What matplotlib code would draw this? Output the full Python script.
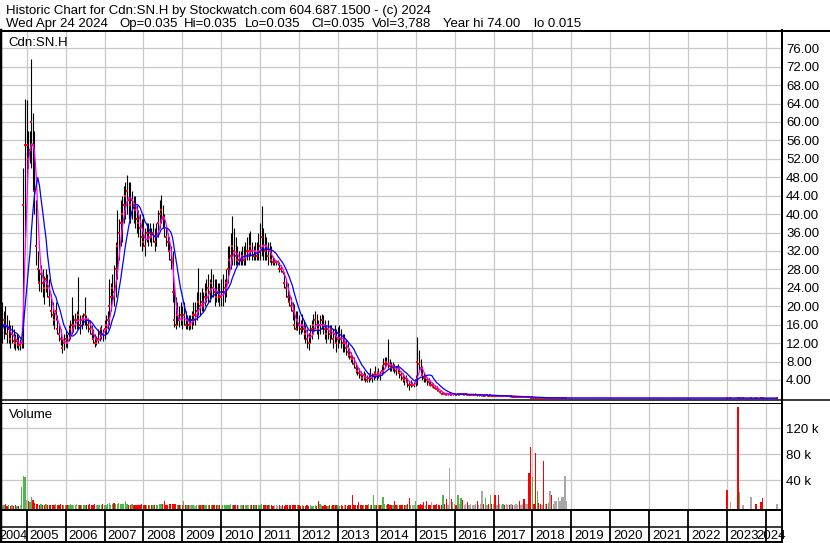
import numpy as np
import pandas as pd
import matplotlib
matplotlib.use('Agg')
import matplotlib.pyplot as plt
from matplotlib.lines import Line2D

plt.rcParams['font.family'] = ['Liberation Sans', 'DejaVu Sans']

# ---------------- data (semi-monthly) ----------------
# one row per year, 2004 starts May 15, 2018 ends Nov 15
close_px = [
    15, 17, 16, 14, 15, 13, 14, 12.5, 12, 12.5, 11.5, 11.5, 12, 42, 55,
    55, 52, 54, 60, 55, 45, 33, 28, 25, 27, 25, 24, 26, 24, 22, 19, 18, 17, 19, 15, 14, 13, 11, 12,
    13, 12, 14, 15, 16, 16, 17, 17, 18, 16, 17, 17.5, 18, 17, 16, 15, 14, 13, 12, 12, 13, 14, 15, 14,
    15, 16, 17, 20, 22, 24, 23, 28, 33, 36, 38, 40, 42, 44, 45, 43, 42, 43, 42, 41, 39, 38, 37, 35,
    34, 33, 36, 35, 36, 35, 36, 34, 35, 38, 40, 41, 39, 37, 35, 34, 32, 30, 23, 17, 16, 18, 17, 18,
    17, 18, 16, 17, 16, 16, 17, 18, 18, 19, 21, 20, 21, 20, 22, 23, 24, 23, 25, 24, 23, 22, 23, 22,
    22, 23, 24, 25, 28, 30, 31, 33, 32, 31, 30, 30, 30, 31, 30, 31, 32, 32, 33, 32, 31, 32, 31, 32,
    33, 35, 33, 32, 33, 31, 32, 30, 29.5, 29.5, 29.5, 29.5, 28, 28, 27.5, 25, 24, 22, 21, 20, 19, 16, 15, 17,
    16, 15, 16, 15, 14, 13, 12, 14, 15, 16, 17, 16, 15, 16, 17, 16, 15, 14, 15, 14, 15, 13, 14, 12,
    13, 14, 13, 12, 12, 11, 10, 9.5, 9, 8.5, 7.5, 6.5, 6, 5.5, 5, 4.5, 5, 4.5, 4, 4.5, 5, 4.5, 5, 5.5,
    5, 5.5, 5, 6, 7, 7.5, 8, 7.5, 7, 6.5, 7, 6.5, 6, 6.5, 5.5, 5, 4.5, 4, 4.5, 3.5, 2.8, 3, 3, 3,
    4, 8, 7.5, 6.5, 5, 4.5, 4.5, 4, 3.5, 3, 3, 2.6, 2.3, 2, 1.8, 1.4, 1.0, 1.1, 1.0, 0.9, 0.9, 0.9, 0.8, 0.9,
    0.9, 0.8, 0.9, 0.9, 1.0, 0.9, 0.9, 0.9, 0.8, 0.8, 0.8, 0.8, 0.8, 0.8, 0.7, 0.7, 0.7, 0.7, 0.6, 0.7, 0.7, 0.6, 0.7, 0.6,
    0.6, 0.55, 0.55, 0.5, 0.5, 0.5, 0.55, 0.5, 0.5, 0.5, 0.45, 0.45, 0.4, 0.4, 0.4, 0.4, 0.35, 0.35, 0.35, 0.3, 0.3, 0.3, 0.25, 0.18,
    0.2, 0.15, 0.12, 0.15, 0.14, 0.13, 0.13, 0.1, 0.1, 0.09, 0.1, 0.1, 0.08, 0.08, 0.08, 0.08, 0.08, 0.08, 0.08, 0.08, 0.08, 0.08,
]
high_px = [
    21, 19, 20, 18, 17, 16, 16, 15, 14, 14, 13.5, 13, 13, 50, 65,
    64.7, 58, 58, 73.7, 62, 58, 43, 32, 28, 29, 28, 26.5, 28, 27, 26, 22.6, 21, 18.7, 21, 18, 16, 15, 12.8, 14,
    14.8, 14, 16, 17, 22, 18, 18.5, 19, 26.3, 18, 18, 18.5, 22, 18, 17.5, 17, 16, 15, 14, 13.5, 15, 15.5, 16, 15,
    17, 18, 19, 26, 25, 27, 29, 34, 41, 39, 43, 44, 46, 47, 48.6, 47, 47, 45, 44, 44, 42, 41, 40, 39,
    40, 37, 38, 38, 38, 37, 38, 37, 38, 41, 43, 44.2, 42, 40, 37, 36, 35, 33, 32, 24.8, 22, 21, 20, 21,
    20, 21, 19, 18, 18, 18, 19, 21, 21, 23, 28.4, 23, 24, 23, 25, 26, 27, 26, 28, 27, 26, 26, 25, 25,
    26, 27, 26, 28, 33, 33, 36, 39.6, 37, 35, 33, 32, 32, 33, 33, 34, 35, 36, 36.3, 34, 33, 34, 34, 36,
    38, 41.7, 37, 36, 35, 34, 34, 33, 31, 30.5, 30, 30, 29.5, 29, 28, 27.5, 26, 25, 23, 22, 21, 20.5, 19, 19,
    18, 17, 18.4, 17, 16, 15, 14, 16, 17, 18.4, 19, 18.4, 17, 18, 18.4, 18, 17, 16, 17, 16, 16, 15, 16, 15,
    15.5, 16, 15, 14, 14, 13, 12, 11, 10, 9.5, 9, 8, 7, 6.5, 6, 5.5, 6, 5.5, 5, 5.5, 6.5, 5.5, 6, 7,
    6, 6.5, 6, 7, 8.7, 9, 9, 12.8, 8.5, 8, 8, 7.5, 7, 7.5, 6.5, 6, 5.5, 5, 5, 4.5, 3.5, 4, 3.5, 3.5,
    5, 13.3, 10.5, 8.5, 7, 5.5, 5, 4.7, 4.5, 4, 3.5, 3.3, 3, 2.6, 2.2, 1.8, 1.3, 1.3, 1.2, 1.1, 1.0, 1.0, 1.0, 1.0,
    1.0, 1.0, 1.0, 1.1, 1.1, 1.0, 1.0, 1.0, 0.9, 0.9, 0.9, 0.9, 0.9, 1.1, 0.8, 0.8, 0.8, 0.8, 0.7, 0.8, 0.8, 0.7, 0.8, 0.7,
    0.7, 0.6, 0.6, 0.6, 0.55, 0.55, 0.6, 0.55, 0.55, 0.55, 0.5, 0.5, 0.45, 0.45, 0.45, 0.45, 0.4, 0.4, 0.4, 0.35, 0.35, 0.35, 0.3, 0.25,
    0.25, 0.2, 0.15, 0.18, 0.15, 0.15, 0.15, 0.13, 0.12, 0.1, 0.12, 0.1, 0.1, 0.08, 0.08, 0.08, 0.08, 0.08, 0.08, 0.08, 0.08, 0.08,
]
low_px = [
    12, 13, 14, 12, 12, 11, 12, 11, 10.5, 11, 10.5, 10.5, 11, 11, 35,
    48, 50, 51, 50, 45, 40, 29, 25.5, 23.4, 23, 22, 20.4, 23, 22, 20, 17.6, 16, 15, 17, 14, 12.5, 11.5, 9.8, 10.5,
    11.2, 11, 12.5, 13, 14, 14.5, 15, 15, 15, 14, 15, 16, 16, 15, 14.5, 14, 13, 12, 11.2, 11.5, 12, 12.5, 13, 12.5,
    13, 14, 15, 16, 19, 21, 20, 22, 26, 30, 33, 34, 38, 39, 40, 39, 38, 39, 38, 37, 36, 35, 33, 32,
    33, 30.9, 34, 33, 34, 33, 34, 32, 33, 35, 37, 38, 37, 35, 33, 32, 30, 28, 21, 15.5, 15, 16, 15.5, 16,
    15, 16, 15, 15, 14.8, 15, 15, 16, 16, 17, 18, 18, 19, 19, 20, 21, 21, 21, 22, 22, 20, 21, 21, 20,
    20, 20, 21, 22, 25, 27, 28, 29, 29, 29, 29, 29, 29, 29, 29, 29, 30, 30, 31, 30, 30, 30, 30, 30,
    30, 31, 30, 30, 30, 29, 29.5, 29, 29, 29, 29, 29, 27.5, 27.5, 27, 24, 22, 21, 20, 19, 17, 15, 14.8, 14.8,
    14, 14, 14.5, 13, 12, 11, 10.5, 12, 13, 14, 15, 14, 13, 14, 15, 14, 13, 12, 13, 12, 13, 11, 12, 10,
    11, 12, 11, 10, 10, 9.5, 9, 8.5, 8, 7.5, 6.5, 5.5, 5, 4.5, 4, 4, 4, 3.6, 3.5, 3.6, 4, 3.6, 4, 4.5,
    4, 4.5, 4, 5, 5.5, 6.5, 7, 6.5, 6, 6, 6, 5.5, 5, 5.5, 4.5, 4, 3.5, 3, 3.5, 2.5, 1.9, 2.5, 2.6, 2.5,
    2.6, 3, 6, 5.5, 4, 3.5, 3.5, 3, 3, 2.6, 2.5, 2.2, 2, 1.7, 1.5, 1.2, 0.9, 0.9, 0.8, 0.8, 0.8, 0.8, 0.7, 0.8,
    0.8, 0.7, 0.8, 0.8, 0.9, 0.8, 0.8, 0.8, 0.7, 0.7, 0.7, 0.7, 0.7, 0.7, 0.6, 0.6, 0.6, 0.6, 0.5, 0.6, 0.6, 0.5, 0.6, 0.5,
    0.5, 0.5, 0.5, 0.45, 0.45, 0.45, 0.5, 0.45, 0.45, 0.45, 0.4, 0.4, 0.35, 0.35, 0.35, 0.35, 0.3, 0.3, 0.3, 0.25, 0.25, 0.25, 0.2, 0.15,
    0.15, 0.12, 0.1, 0.12, 0.12, 0.12, 0.12, 0.1, 0.09, 0.08, 0.09, 0.1, 0.08, 0.08, 0.08, 0.08, 0.08, 0.08, 0.08, 0.08, 0.08, 0.08,
]
volume_k = [
    2, 1.5, 3, 1, 2, 1, 1.5, 1, 1.5, 1, 1, 2, 30, 47, 45,
    10, 8, 6, 15, 9, 5, 4, 3, 2, 3, 2, 2, 3, 2, 2, 2, 1.5, 2, 3, 2, 2, 3, 2, 2,
    2, 1.5, 2, 3, 2, 2, 1.5, 3, 2, 2, 1.5, 2, 2.5, 2, 1.5, 3, 2, 2, 3, 1.5, 2, 2.5, 2, 3,
    2, 2, 3, 5, 2, 3, 5, 4, 3, 5, 3, 4, 4, 7.7, 3, 2, 2, 3, 2, 2, 1.5, 2, 2, 3,
    2, 2, 1.5, 2, 2, 2, 2, 1.5, 2, 2, 3, 4, 4, 7.7, 2, 2, 3, 3, 4, 3, 3, 2, 2, 2,
    2, 7.7, 2, 1.5, 2, 1.5, 2, 1.5, 1, 2, 1.5, 2, 2, 1.5, 2, 2.5, 2, 1.5, 2, 2, 2, 1.5, 2, 2,
    2, 2, 1.5, 2, 2.5, 2, 3, 2, 2, 1.5, 2, 2, 2, 2, 1.5, 2, 2, 2, 2, 2.5, 2, 2, 2, 2,
    2, 3, 2, 1.5, 1.5, 2, 1.5, 1.5, 1, 1.5, 1.5, 1, 1.5, 1, 1.5, 1, 1.5, 2, 1.5, 1.5, 2, 1.5, 1.5, 1.5,
    1.5, 1, 1.5, 1, 1, 1.5, 1, 1.5, 1, 1, 1.5, 1, 7.7, 3, 1.5, 1, 1.5, 1, 1, 1.5, 1, 1.5, 2, 1.5,
    1.5, 1, 1.5, 1, 2, 1.5, 1, 2, 1.5, 17, 2, 1.5, 2, 6.6, 1.5, 2, 1.5, 2, 1.5, 3, 2, 1.5, 17, 2,
    1.5, 2, 1.5, 2, 14, 3, 2, 4, 2, 1.5, 2, 8, 2, 1.5, 2, 1.5, 2, 1.5, 2, 3, 12, 2, 1.5, 2,
    7.7, 2, 1.5, 3, 2, 6.6, 2, 7.7, 2, 1.5, 6, 2, 1.5, 3, 2, 1.5, 2, 16.9, 3, 11.8, 2, 59, 11.8, 6.6,
    3, 2, 18, 3, 12, 10, 2, 3, 6.7, 2, 3, 2, 2, 3, 8, 2, 3, 23, 3, 12, 2, 3, 17, 3,
    3, 17.7, 2, 17.7, 3, 2, 4, 2, 3, 2, 2, 3, 2, 2, 3, 2, 8.7, 2, 3, 11, 3, 4, 51, 92,
    45, 3, 82, 23, 5, 3, 2, 69, 4, 3, 5, 24, 18, 3, 8.7, 8.7, 14, 8.7, 14, 14, 46, 8.7,
]

# trades after the 2019-2022 gap
late_dates = ['2023-01-01', '2023-02-01', '2023-04-15', '2023-05-01', '2023-06-01',
              '2023-08-15', '2023-10-01', '2023-11-15', '2023-12-01', '2024-04-15']
late_close = [0.05, 0.05, 0.04, 0.05, 0.05, 0.05, 0.045, 0.04, 0.035, 0.035]
late_high = [0.06, 0.05, 0.05, 0.06, 0.05, 0.05, 0.05, 0.045, 0.04, 0.035]
late_low = [0.04, 0.05, 0.03, 0.04, 0.05, 0.05, 0.04, 0.035, 0.03, 0.035]
late_vol = [24.6, 7, 152.8, 22, 2, 13.8, 3, 6, 13, 3]

years = list(range(2005, 2025))
price_ticks = list(range(4, 80, 4))
vol_ticks = [40, 80, 120]

title1 = "Historic Chart for Cdn:SN.H by Stockwatch.com 604.687.1500 - (c) 2024"
title2_parts = ["Wed Apr 24 2024", "Op=0.035", "Hi=0.035", "Lo=0.035", "Cl=0.035",
                "Vol=3,788", "Year hi 74.00", "lo 0.015"]
title2_x = [6, 119, 184, 245, 311, 372, 443, 534]   # pixel starts

# ---------------- build frame ----------------
d1 = pd.date_range('2004-05-15', '2018-11-15', freq='SMS')
assert len(d1) == len(close_px) == len(high_px) == len(low_px) == len(volume_k)
df = pd.DataFrame({'close': close_px + late_close, 'high': high_px + late_high,
                   'low': low_px + late_low, 'vol': volume_k + late_vol},
                  index=d1.append(pd.DatetimeIndex(late_dates)))
idx = df.index
df['x'] = idx.year + (idx.dayofyear - 1) / np.where(idx.is_leap_year, 366, 365)
df['ma_short'] = df['close'].rolling(4, min_periods=1).mean()
df['ma_long'] = df['close'].rolling(10, min_periods=1).mean()
chg = df['close'].diff().fillna(0)
vcol = np.where(chg > 0, '#4cb84c', np.where(chg < 0, '#ff0000', '#a8a8a8'))

# ---------------- figure ----------------
W, H = 830, 543
fig = plt.figure(figsize=(W / 100, H / 100), dpi=100)
fig.patch.set_facecolor('white')


def fx(px):
    return px / W


def fy(py):
    return 1 - py / H


fs = 9.5
grid_c = '#c8c8c8'
xmin, xmax = 2004.365, 2024.389

ax = fig.add_axes([fx(2), fy(400), fx(779), (400 - 31) / H])
axv = fig.add_axes([fx(2), fy(510), fx(779), (510 - 402.5) / H])
axd = fig.add_axes([fx(2), fy(541), fx(779), (541 - 510) / H])

for a in (ax, axv, axd):
    a.set_xlim(xmin, xmax)
    for s in a.spines.values():
        s.set_visible(False)
    a.tick_params(axis='x', bottom=False, labelbottom=False)
    for y in years:
        a.axvline(y, color=grid_c if a is not axd else 'black',
                  lw=0.9 if a is not axd else 1.3, zorder=0)

# price panel
ax.set_ylim(-0.35, 79.75)
ax.yaxis.tick_right()
ax.set_yticks(price_ticks)
ax.set_yticklabels([f'{v:.2f}' for v in price_ticks])
ax.tick_params(axis='y', length=0, pad=3.6, labelsize=fs)
for v in price_ticks:
    ax.axhline(v, color=grid_c, lw=0.9, zorder=0)

ax.vlines(df['x'], df['low'], df['high'], color='black', lw=0.8, zorder=2)
ax.plot(df['x'], df['close'], 's', color='red', ms=1.7, mew=0, zorder=3)
ax.plot(df['x'], df['ma_short'], color='#ff00ff', lw=0.9, zorder=4)
ax.plot(df['x'], df['ma_long'], color='#0000ff', lw=0.9, zorder=5)
fig.text(fx(8.5), fy(46), 'Cdn:SN.H', fontsize=fs, va='baseline', ha='left')

# volume panel
vbot = -5.7
axv.set_ylim(vbot, 159.7)
axv.yaxis.tick_right()
axv.set_yticks(vol_ticks)
axv.set_yticklabels([f'{v} k' for v in vol_ticks])
axv.tick_params(axis='y', length=0, pad=3.6, labelsize=fs)
for v in vol_ticks:
    axv.axhline(v, color=grid_c, lw=0.9, zorder=0)
axv.bar(df['x'], df['vol'] - vbot, bottom=vbot, width=0.034, color=vcol, zorder=2)
fig.text(fx(8.5), fy(417.7), 'Volume', fontsize=fs, va='baseline', ha='left')

# date strip
axd.set_ylim(0, 1)
axd.set_yticks([])
base = (541 - 539.3) / 31
for y in years[:-1]:
    axd.annotate(str(y), xy=(y, base), xycoords=('data', 'axes fraction'),
                 xytext=(2.0, 0), textcoords='offset points',
                 ha='left', va='baseline', fontsize=fs)
fig.text(fx(-0.6), fy(539.3), '2004', fontsize=9.1, va='baseline', ha='left')
fig.text(fx(786), fy(539.3), '2024', fontsize=fs, va='baseline', ha='right')

# header
fig.text(fx(6), fy(14), title1, fontsize=fs, va='baseline', ha='left')
for part, px in zip(title2_parts, title2_x):
    fig.text(fx(px), fy(26.7), part, fontsize=fs, va='baseline', ha='left')


# frame lines (pixel coordinates)
def hline(py, x0, x1, lw):
    fig.add_artist(Line2D([fx(x0), fx(x1)], [fy(py), fy(py)], color='black',
                          lw=lw * 0.72, transform=fig.transFigure))


def vline(px, y0, y1, lw):
    fig.add_artist(Line2D([fx(px), fx(px)], [fy(y0), fy(y1)], color='black',
                          lw=lw * 0.72, transform=fig.transFigure))


hline(30.5, 0, 830, 2)
hline(400, 0, 830, 1.5)
hline(402.8, 0, 781, 1)
hline(510, 0, 781, 2)
hline(527, 0, 781, 1.5)
hline(541.5, 0, 781, 2)
vline(1, 30, 543, 2.5)
vline(781.5, 30, 543, 2)

fig.savefig('out.png', dpi=100, facecolor='white')
